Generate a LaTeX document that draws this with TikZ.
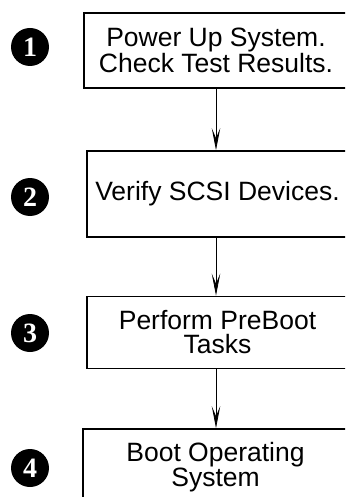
\documentclass[tikz,border=0pt]{standalone}
\usepackage{fontspec}
\setmainfont{Liberation Sans}
\newfontfamily\numfont{Liberation Serif}
\usetikzlibrary{arrows.meta, positioning}
\tikzset{
  stepbox/.style={draw=black, line width=1.8pt, align=center, inner sep=0pt,
                  font=\fontsize{26.5}{24}\selectfont},
  badge/.style={circle, fill=black, text=white, minimum size=38pt, inner sep=0pt,
                font=\numfont\bfseries\fontsize{28}{28}\selectfont},
  flow/.style={-{Stealth[length=22pt, width=8.5pt, inset=10pt]}, line width=0.8pt, draw=black},
}

\begin{document}
\begin{tikzpicture}[x=1pt, y=-1pt]
  \useasboundingbox (0,0) rectangle (345,497);
  \clip (0,0) rectangle (345,497);
  % steps
  \node[stepbox, minimum width=264pt, minimum height=75pt] (s1) at (216,50.5)
    {Power Up System.\\Check Test Results.};
  \node[stepbox, minimum width=261pt, minimum height=86pt] (s2) at (217.5,194)
    {Verify SCSI Devices.};
  \node[stepbox, minimum width=261pt, minimum height=72pt] (s3) at (217.5,332.5)
    {Perform PreBoot\\Tasks};
  \node[stepbox, minimum width=265pt, minimum height=76pt] (s4) at (215.5,467)
    {Boot Operating\\System};
  % numbers
  \foreach \i/\y in {1/47,2/197,3/333,4/468}{
    \node[badge] (n\i) at (30,\y) {\i};
  }
  % arrows
  \draw[flow] (s1.south) -- (s1.south |- s2.north);
  \draw[flow] (s1.south |- s2.south) -- (s1.south |- s3.north);
  \draw[flow] (s1.south |- s3.south) -- (s1.south |- s4.north);
\end{tikzpicture}
\end{document}
